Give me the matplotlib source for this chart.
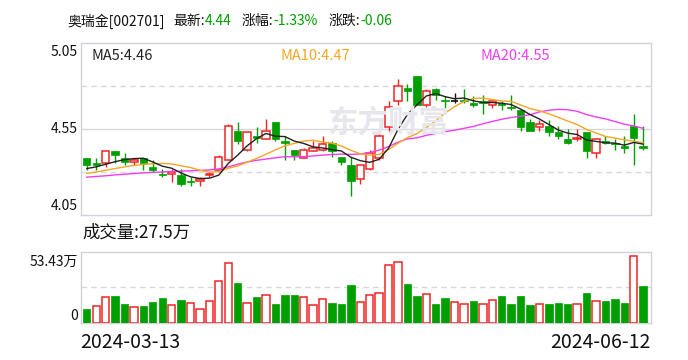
import numpy as np
import pandas as pd
import matplotlib
matplotlib.use('Agg')
import matplotlib.pyplot as plt

plt.rcParams['font.family'] = ['Noto Sans CJK SC', 'DejaVu Sans']

# ---------------- data ----------------
stock_name = '奥瑞金[002701]'
latest = '4.44'
pct_change = '-1.33%'
abs_change = '-0.06'
volume_label = '27.5万'
date_labels = ['2024-03-13', '2024-06-12']
price_ticks = [5.05, 4.55, 4.05]
vol_tick_labels = ['53.43万', '0']
vol_max = 53.43

opens = [4.38, 4.35, 4.35, 4.42, 4.38, 4.36, 4.38, 4.33, 4.29, 4.29,
         4.28, 4.25, 4.25, 4.28, 4.31, 4.37, 4.54, 4.43, 4.51, 4.49,
         4.59, 4.48, 4.43, 4.38, 4.42, 4.43, 4.47, 4.39, 4.34, 4.26,
         4.32, 4.38, 4.56, 4.71, 4.79, 4.86, 4.69, 4.78, 4.72, 4.71,
         4.72, 4.70, 4.71, 4.69, 4.70, 4.68, 4.66, 4.59, 4.56, 4.57,
         4.53, 4.49, 4.49, 4.53, 4.41, 4.48, 4.47, 4.45, 4.57, 4.45]
highs = [4.38, 4.38, 4.42, 4.42, 4.41, 4.38, 4.38, 4.37, 4.32, 4.32,
         4.32, 4.27, 4.27, 4.30, 4.40, 4.58, 4.59, 4.53, 4.56, 4.61,
         4.59, 4.51, 4.43, 4.44, 4.48, 4.51, 4.48, 4.39, 4.39, 4.34,
         4.43, 4.52, 4.71, 4.84, 4.81, 4.86, 4.78, 4.79, 4.74, 4.76,
         4.78, 4.74, 4.75, 4.72, 4.71, 4.75, 4.66, 4.61, 4.60, 4.60,
         4.57, 4.55, 4.55, 4.53, 4.49, 4.51, 4.49, 4.51, 4.64, 4.57]
lows = [4.31, 4.31, 4.33, 4.35, 4.34, 4.34, 4.31, 4.30, 4.27, 4.24,
        4.22, 4.22, 4.22, 4.27, 4.31, 4.37, 4.46, 4.42, 4.47, 4.49,
        4.48, 4.37, 4.37, 4.38, 4.42, 4.42, 4.39, 4.34, 4.16, 4.23,
        4.31, 4.37, 4.54, 4.69, 4.71, 4.69, 4.68, 4.72, 4.66, 4.70,
        4.70, 4.68, 4.64, 4.67, 4.66, 4.66, 4.54, 4.54, 4.54, 4.51,
        4.49, 4.46, 4.48, 4.38, 4.38, 4.46, 4.43, 4.41, 4.34, 4.43]
closes = [4.34, 4.34, 4.42, 4.40, 4.36, 4.37, 4.35, 4.31, 4.28, 4.30,
          4.23, 4.24, 4.26, 4.29, 4.39, 4.57, 4.48, 4.53, 4.50, 4.54,
          4.49, 4.47, 4.40, 4.43, 4.44, 4.46, 4.42, 4.36, 4.25, 4.34,
          4.41, 4.51, 4.68, 4.80, 4.77, 4.69, 4.77, 4.75, 4.71, 4.71,
          4.71, 4.69, 4.70, 4.71, 4.69, 4.67, 4.56, 4.54, 4.58, 4.53,
          4.51, 4.47, 4.50, 4.42, 4.49, 4.47, 4.46, 4.44, 4.50, 4.44]
volumes = [10.2, 13.0, 19.7, 20.0, 14.0, 12.2, 12.5, 15.5, 18.5, 13.7,
           17.0, 15.2, 10.7, 16.7, 31.7, 45.2, 29.7, 15.2, 19.2, 21.2,
           14.0, 20.7, 20.7, 19.7, 13.7, 18.2, 14.7, 14.0, 28.2, 16.0,
           20.7, 22.2, 43.2, 45.4, 29.0, 20.0, 21.5, 14.0, 18.5, 16.0,
           14.0, 16.2, 14.0, 17.5, 20.0, 14.0, 20.0, 13.2, 14.5, 14.0,
           14.7, 14.0, 14.0, 22.2, 16.7, 16.2, 17.7, 14.7, 49.9, 27.5]
# moving-average values before enough history is in view
ma5_head = [4.32, 4.33, 4.345, 4.36]
ma10_head = [4.292, 4.300, 4.310, 4.320, 4.330, 4.338, 4.344, 4.348, 4.350]
ma20_head = [4.270, 4.274, 4.278, 4.283, 4.287, 4.291, 4.295, 4.298, 4.300,
             4.303, 4.305, 4.307, 4.309, 4.312, 4.318, 4.330, 4.345, 4.358,
             4.368]

# ---------------- styling ----------------
RED = '#f02424'
GREEN = '#009f00'
DOJI = '#111111'
C_MA5 = '#222222'
C_MA10 = '#f5a623'
C_MA20 = '#f23cf2'
SPINE = '#d2d2da'
GRID = '#d8d8d8'

W, H = 688, 360
fig = plt.figure(figsize=(W / 100, H / 100), dpi=100)
renderer = fig.canvas.get_renderer()


def fx(x):
    return x / W


def fy(y):
    return 1 - y / H


def ftext(x, y, s, **kw):
    return fig.text(fx(x), fy(y), s, **kw)


o = np.array(opens)
c = np.array(closes)
h = np.array(highs)
l = np.array(lows)
v = np.array(volumes)
n = len(o)
idx = np.arange(n)

s_close = pd.Series(c)
ma5 = s_close.rolling(5).mean().to_numpy()
ma10 = s_close.rolling(10).mean().to_numpy()
ma20 = s_close.rolling(20).mean().to_numpy()
ma5[:len(ma5_head)] = ma5_head
ma10[:len(ma10_head)] = ma10_head
ma20[:len(ma20_head)] = ma20_head

# axes placement (pixels)
L, R = 80.5, 651
T1, B1 = 43, 215
T2, B2 = 251.5, 323
ax = fig.add_axes([fx(L), fy(B1), fx(R - L), (B1 - T1) / H])
axv = fig.add_axes([fx(L), fy(B2), fx(R - L), (B2 - T2) / H])

xlim = (-0.668, 59.83)
for a in (ax, axv):
    a.set_xlim(*xlim)
    a.set_xticks([])
    a.set_yticks([])
    for sp in a.spines.values():
        sp.set_color(SPINE)
        sp.set_linewidth(1.0)

ax.set_ylim(4.05, 5.05)
axv.set_ylim(0, vol_max)

# grid lines
ax.axhline(4.55, color=GRID, lw=1.0, zorder=0)
ax.axhline(4.80, color=GRID, lw=1.0, ls=(0, (4, 3)), zorder=0)
ax.axhline(4.30, color=GRID, lw=1.0, ls=(0, (4, 3)), zorder=0)
axv.axhline(vol_max / 2, color=GRID, lw=1.0, ls=(0, (4, 3)), zorder=0)

# watermark
ftext(388, 123, '东方财富', fontsize=22, color='#e6e6ec', ha='center',
      va='center', fontweight='bold', zorder=0)

# candles
bw = 0.78
for i in range(n):
    if c[i] > o[i]:
        col = RED
    elif c[i] < o[i]:
        col = GREEN
    else:
        col = DOJI
    ax.vlines(i, l[i], h[i], color=col, lw=1.0, zorder=2)
    if c[i] > o[i]:
        ax.bar(i, c[i] - o[i], bottom=o[i], width=bw, facecolor='white',
               edgecolor=col, lw=1.1, zorder=3)
    elif c[i] < o[i]:
        ax.bar(i, o[i] - c[i], bottom=c[i], width=bw, facecolor=col,
               edgecolor=col, lw=0.5, zorder=3)
    else:
        ax.hlines(c[i], i - bw / 2, i + bw / 2, color=col, lw=1.2, zorder=3)

ax.plot(idx, ma20, color=C_MA20, lw=1.0, zorder=4)
ax.plot(idx, ma10, color=C_MA10, lw=1.0, zorder=4)
ax.plot(idx, ma5, color=C_MA5, lw=1.0, zorder=4)

# volume bars: red if close >= previous close
for i in range(n):
    prev = c[i - 1] if i > 0 else o[i]
    up = c[i] >= prev
    if up:
        axv.bar(i, v[i], width=bw, facecolor='white', edgecolor=RED,
                lw=1.1, zorder=3)
    else:
        axv.bar(i, v[i], width=bw, facecolor=GREEN, edgecolor=GREEN,
                lw=0.5, zorder=3)

# title, pieces chained left to right
tfs = 10
pieces = [(stock_name, '#111111', 0), ('最新:', '#111111', 8),
          (latest, GREEN, 0), ('涨幅:', '#111111', 10),
          (pct_change, GREEN, 0), ('涨跌:', '#111111', 11),
          (abs_change, GREEN, 0)]
xcur = 68
for s, col, gap in pieces:
    xcur += gap
    t = ftext(xcur, 21, s, fontsize=tfs, color=col, va='center', ha='left')
    bb = t.get_window_extent(renderer=renderer)
    xcur += bb.width

# MA legends
lfs = 10.5
ftext(91, 56, 'MA5:%.2f' % ma5[-1], fontsize=lfs, color='#222222', va='center')
ftext(281, 56, 'MA10:%.2f' % ma10[-1], fontsize=lfs, color=C_MA10, va='center')
ftext(481, 56, 'MA20:%.2f' % ma20[-1], fontsize=lfs, color=C_MA20, va='center')

# price axis labels
for val, ypx in zip(price_ticks, [52, 129, 205.5]):
    ftext(78, ypx, '%.2f' % val, fontsize=10, color='#111111', ha='right',
          va='center')

# volume labels
ftext(82.7, 233, '成交量:' + volume_label, fontsize=12.5, color='#111111',
      va='center')
ftext(78, 262, vol_tick_labels[0], fontsize=10, color='#111111', ha='right',
      va='center')
ftext(78, 316, vol_tick_labels[1], fontsize=10, color='#111111', ha='right',
      va='center')

# dates
ftext(80.7, 342, date_labels[0], fontsize=14, color='#111111', ha='left',
      va='center')
ftext(651, 342, date_labels[1], fontsize=14, color='#111111', ha='right',
      va='center')

fig.savefig('out.png', dpi=100, facecolor='white')
